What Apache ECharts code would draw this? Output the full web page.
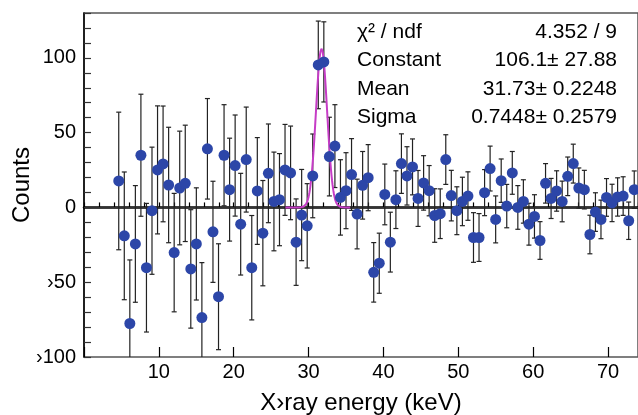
<!DOCTYPE html>
<html>
<head>
<meta charset="utf-8">
<script src="https://cdn.jsdelivr.net/npm/echarts@6/dist/echarts.min.js"></script>
<style>
html, body { margin: 0; padding: 0; background: #fff; }
#main { width: 638px; height: 415px; }
</style>
</head>
<body>
<div id="main"></div>
<script>
// histogram: first bin centre and bin width (keV)
var binLow = 4.64;
var binWidth = 0.7404;

// counts per bin
var counts = [17.7, -19, -77.6, -24.4, 34.9, -40.3, -2.2, 25.1, 29.1, 15,
    -30.2, 13, 16.1, -41.1, -24.4, -73.6, 39.2, -16.3, -59.7, 34.9,
    11.9, 28, -11.2, 32, -40.3, 11, -17.2, 22.8, 4, 5.2,
    25.1, 23.1, -23.2, -5.1, -12.3, 21.1, 95.3, 97.3, 34, 41,
    6.7, 11.2, 22, -4.4, 14.8, 19.9, -43.4, -37.3, 8.7, -23.2,
    5.2, 29.3, 21.1, 27.1, 6, 16.4, 11.2, -5.4, -4.2, 32,
    7.9, -2.2, 4, 7.6, -20.1, -20.1, 9.9, 26, -8, 17.9,
    0.9, 23.1, 0, 4, -11.2, -6, -22.1, 16.1, 6, 11,
    4, 20.8, 29.3, 13, 11.9, -18.1, -3.1, -8, 6.7, 3,
    7, 7.6, -8.9, 11.9];

// symmetric errors per bin
var errors = [46, 42.7, 42.5, 39, 40.8, 43, 42.5, 42.8, 38.7, 38.6,
    39.6, 38, 38.9, 39.6, 37.5, 36.7, 33.6, 33.8, 35.4, 33.8,
    34.4, 33.8, 34, 35.1, 34.9, 35.7, 35.2, 33, 33, 30.8,
    30.4, 31.3, 28.9, 30.5, 28.2, 28, 29.3, 26.8, 26.3, 27.7,
    25.2, 25.4, 24, 23.3, 22.6, 22.1, 19.9, 20.1, 20.3, 20,
    19.3, 19.9, 19.5, 18.7, 18.7, 18.2, 16.8, 17.9, 16.6, 16.6,
    16.9, 16, 16.2, 16.2, 16.6, 16, 15.4, 15, 15.7, 14.5,
    14.5, 14.3, 14.6, 14.5, 14, 14.5, 12.6, 13.2, 13.4, 13.5,
    13.6, 12.9, 13, 13.4, 12.9, 12.9, 12.9, 12.9, 12.6, 12.5,
    12.8, 12.9, 12.5, 12.5];

// gaussian fit parameters and range
var fitConstant = 106.1;
var fitMean = 31.73;
var fitSigma = 0.7448;
var fitRange = [26.9, 35.6];

// stats box
var statNames = ['χ² / ndf', 'Constant', 'Mean', 'Sigma'];
var statValues = ['4.352 / 9', '106.1± 27.88', '31.73± 0.2248', '0.7448± 0.2579'];

// axis ticks
var xLabels = [10, 20, 30, 40, 50, 60, 70];
var xMajor = [0, 10, 20, 30, 40, 50, 60, 70];
var xMinor = [];
for (var t = 0; t <= 74; t += 2) xMinor.push(t);
var yLabels = [-100, -50, 0, 50, 100];
var yMinor = [];
for (var v = -100; v <= 130; v += 10) yMinor.push(v);

var FONT = '"Liberation Sans", Arial, Helvetica, sans-serif';

var points = counts.map(function (c, i) { return [binLow + binWidth * i, c]; });
var bars = counts.map(function (c, i) { return [binLow + binWidth * i, c, errors[i]]; });

var fitLine = [];
var nSteps = 300;
for (var k = 0; k <= nSteps; k++) {
    var xx = fitRange[0] + (fitRange[1] - fitRange[0]) * k / nSteps;
    var d = (xx - fitMean) / fitSigma;
    fitLine.push([xx, fitConstant * Math.exp(-0.5 * d * d)]);
}

var gridL = 84, gridT = 13, gridB = 58, W = 638, H = 415;
var plotW = W - gridL, plotH = H - gridT - gridB;

var chart = echarts.init(document.getElementById('main'), null, { renderer: 'canvas' });

var graphics = [];
statNames.forEach(function (s, i) {
    var y = 32 + i * 28.4;
    graphics.push({
        type: 'text', x: 357, y: y,
        style: { text: s, fontSize: 21, fontFamily: FONT, fill: '#000', textAlign: 'left', textVerticalAlign: 'middle' }
    });
    graphics.push({
        type: 'text', x: 617, y: y,
        style: { text: statValues[i], fontSize: 21, fontFamily: FONT, fill: '#000', textAlign: 'right', textVerticalAlign: 'middle' }
    });
});

var option = {
    animation: false,
    backgroundColor: '#fff',
    grid: {
        left: gridL, right: 0, top: gridT, bottom: gridB,
        outerBoundsMode: 'none', containLabel: false,
        show: true, borderColor: '#555', borderWidth: 1.5
    },
    xAxis: [{
        type: 'value', min: 0, max: 74, position: 'bottom',
        name: 'X›ray energy (keV)', nameLocation: 'middle', nameGap: 34,
        nameTextStyle: { fontSize: 24, fontFamily: FONT, color: '#000' },
        axisLine: { show: true, lineStyle: { color: '#000', width: 2.5 } },
        axisTick: { show: true, inside: true, length: 5, customValues: xMinor, lineStyle: { color: '#000', width: 1.2 } },
        axisLabel: { customValues: xLabels, fontSize: 20, fontFamily: FONT, color: '#000', margin: 5 },
        splitLine: { show: false }
    }, {
        type: 'value', min: 0, max: 74, position: 'top', offset: -plotH,
        axisLine: { show: false },
        axisTick: { show: true, inside: false, length: 10, customValues: xMajor, lineStyle: { color: '#000', width: 1.2 } },
        axisLabel: { show: false },
        splitLine: { show: false }
    }],
    yAxis: [{
        type: 'value', min: -100, max: 130, position: 'left',
        name: 'Counts', nameLocation: 'middle', nameGap: 50, nameRotate: 90,
        nameMoveOverlap: false,
        nameTextStyle: { fontSize: 24, fontFamily: FONT, color: '#000' },
        axisLine: { show: true, lineStyle: { color: '#000', width: 1.5 } },
        axisTick: { show: true, inside: true, length: 7, customValues: yMinor, lineStyle: { color: '#333', width: 1.2 } },
        axisLabel: {
            customValues: yLabels, fontSize: 20, fontFamily: FONT, color: '#000', margin: 8,
            formatter: function (val) { return String(val).replace('-', '›'); }
        },
        splitLine: { show: false }
    }, {
        type: 'value', min: -100, max: 130, position: 'right', offset: -plotW,
        axisLine: { show: false },
        axisTick: { show: true, inside: false, length: 15, customValues: yLabels, lineStyle: { color: '#000', width: 1.2 } },
        axisLabel: { show: false },
        splitLine: { show: false }
    }],
    graphic: graphics,
    series: [{
        // error bars
        type: 'custom',
        xAxisIndex: 0, yAxisIndex: 0,
        clip: true,
        z: 3,
        data: bars,
        encode: { x: 0, y: 1 },
        renderItem: function (params, api) {
            var x = api.value(0), y = api.value(1), e = api.value(2);
            var top = api.coord([x, y + e]);
            var bot = api.coord([x, y - e]);
            var w = 2.5;
            var st = { stroke: '#222', lineWidth: 1.2 };
            return {
                type: 'group',
                children: [
                    { type: 'line', shape: { x1: top[0], y1: top[1], x2: bot[0], y2: bot[1] }, style: st },
                    { type: 'line', shape: { x1: top[0] - w, y1: top[1], x2: top[0] + w, y2: top[1] }, style: st },
                    { type: 'line', shape: { x1: bot[0] - w, y1: bot[1], x2: bot[0] + w, y2: bot[1] }, style: st }
                ]
            };
        }
    }, {
        // gaussian fit
        type: 'line',
        xAxisIndex: 0, yAxisIndex: 0,
        data: fitLine,
        showSymbol: false,
        smooth: false,
        z: 4,
        lineStyle: { color: '#c63cc6', width: 2 },
        silent: true
    }, {
        type: 'scatter',
        xAxisIndex: 0, yAxisIndex: 0,
        data: points,
        symbol: 'circle',
        symbolSize: 11,
        z: 5,
        itemStyle: { color: '#2c46a8', opacity: 1 },
        markLine: {
            silent: true,
            symbol: ['none', 'none'],
            label: { show: false },
            lineStyle: { color: '#333', width: 1, type: 'solid' },
            data: [{ yAxis: 0 }],
            z: 2
        }
    }]
};

chart.setOption(option);
</script>
</body>
</html>
